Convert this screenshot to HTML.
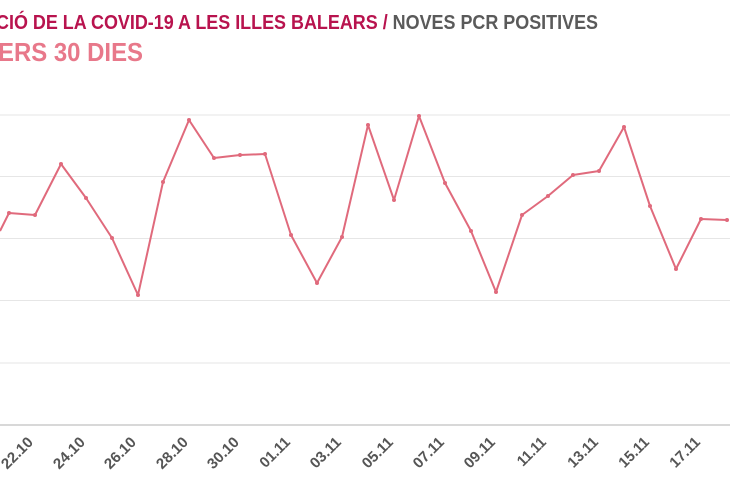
<!DOCTYPE html>
<html><head><meta charset="utf-8"><style>
body{margin:0;background:#fff;width:730px;height:500px;overflow:hidden;font-family:"Liberation Sans Narrow","Liberation Sans",sans-serif;}
</style></head><body>
<svg width="730" height="500" xmlns="http://www.w3.org/2000/svg" style="position:absolute;left:0;top:0">
<text x="-4" y="29" textLength="602" lengthAdjust="spacingAndGlyphs" font-family="Liberation Sans Narrow, Liberation Sans, sans-serif" font-weight="bold" font-size="20" fill="#b8134e">CIÓ DE LA COVID-19 A LES ILLES BALEARS / <tspan fill="#5a5a5a">NOVES PCR POSITIVES</tspan></text>
<text x="-2" y="61" textLength="145" lengthAdjust="spacingAndGlyphs" font-family="Liberation Sans Narrow, Liberation Sans, sans-serif" font-weight="bold" font-size="26" fill="#e8788a">ERS 30 DIES</text>
<g stroke="#e6e6e6" stroke-width="1">
<line x1="0" y1="115" x2="730" y2="115"/><line x1="0" y1="176.5" x2="730" y2="176.5"/><line x1="0" y1="238.5" x2="730" y2="238.5"/><line x1="0" y1="300.5" x2="730" y2="300.5"/><line x1="0" y1="363" x2="730" y2="363"/>
</g>
<line x1="0" y1="425" x2="730" y2="425" stroke="#cccccc" stroke-width="1.5"/>
<polyline fill="none" stroke="#e06a7c" stroke-width="2" stroke-linejoin="round" points="0,231 9,213 35,215 61,164 86,198 112,238 138,295 163,182 189,120 214,158 240,155 265,154 291,235 317,283 342,237 368,125 394,200 419,116 445,183 471,231 496,292 522,215 548,196 573,175 599,171 624,127 650,206 676,269 701,219 727,220"/>
<g fill="#e06a7c">
<circle cx="9" cy="213" r="2"/><circle cx="35" cy="215" r="2"/><circle cx="61" cy="164" r="2"/><circle cx="86" cy="198" r="2"/><circle cx="112" cy="238" r="2"/><circle cx="138" cy="295" r="2"/><circle cx="163" cy="182" r="2"/><circle cx="189" cy="120" r="2"/><circle cx="214" cy="158" r="2"/><circle cx="240" cy="155" r="2"/><circle cx="265" cy="154" r="2"/><circle cx="291" cy="235" r="2"/><circle cx="317" cy="283" r="2"/><circle cx="342" cy="237" r="2"/><circle cx="368" cy="125" r="2"/><circle cx="394" cy="200" r="2"/><circle cx="419" cy="116" r="2"/><circle cx="445" cy="183" r="2"/><circle cx="471" cy="231" r="2"/><circle cx="496" cy="292" r="2"/><circle cx="522" cy="215" r="2"/><circle cx="548" cy="196" r="2"/><circle cx="573" cy="175" r="2"/><circle cx="599" cy="171" r="2"/><circle cx="624" cy="127" r="2"/><circle cx="650" cy="206" r="2"/><circle cx="676" cy="269" r="2"/><circle cx="701" cy="219" r="2"/><circle cx="727" cy="220" r="2"/>
</g>
<g font-family="Liberation Sans Narrow, Liberation Sans, sans-serif" font-weight="bold" font-size="15" fill="#555" text-anchor="end">
<text transform="translate(34,443) rotate(-45)" textLength="38" lengthAdjust="spacingAndGlyphs">22.10</text>
<text transform="translate(86,443) rotate(-45)" textLength="38" lengthAdjust="spacingAndGlyphs">24.10</text>
<text transform="translate(137,443) rotate(-45)" textLength="38" lengthAdjust="spacingAndGlyphs">26.10</text>
<text transform="translate(189,443) rotate(-45)" textLength="38" lengthAdjust="spacingAndGlyphs">28.10</text>
<text transform="translate(240,443) rotate(-45)" textLength="38" lengthAdjust="spacingAndGlyphs">30.10</text>
<text transform="translate(291,443) rotate(-45)" textLength="36" lengthAdjust="spacingAndGlyphs">01.11</text>
<text transform="translate(342,443) rotate(-45)" textLength="37" lengthAdjust="spacingAndGlyphs">03.11</text>
<text transform="translate(394,443) rotate(-45)" textLength="37" lengthAdjust="spacingAndGlyphs">05.11</text>
<text transform="translate(445,443) rotate(-45)" textLength="37" lengthAdjust="spacingAndGlyphs">07.11</text>
<text transform="translate(496,443) rotate(-45)" textLength="37" lengthAdjust="spacingAndGlyphs">09.11</text>
<text transform="translate(547,443) rotate(-45)" textLength="34" lengthAdjust="spacingAndGlyphs">11.11</text>
<text transform="translate(599,443) rotate(-45)" textLength="36" lengthAdjust="spacingAndGlyphs">13.11</text>
<text transform="translate(650,443) rotate(-45)" textLength="36" lengthAdjust="spacingAndGlyphs">15.11</text>
<text transform="translate(701,443) rotate(-45)" textLength="36" lengthAdjust="spacingAndGlyphs">17.11</text>
</g>
</svg>
</body></html>
